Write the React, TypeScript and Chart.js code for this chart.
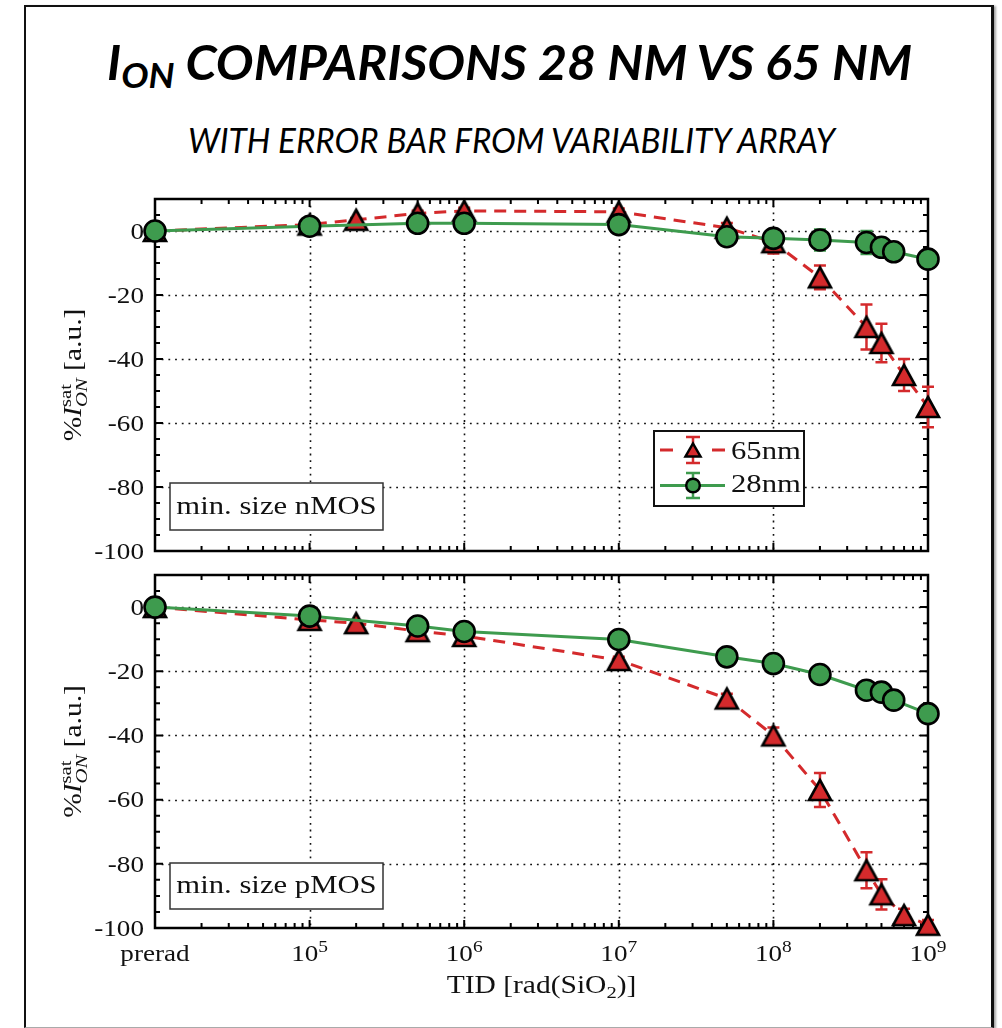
import React, { useEffect, useLayoutEffect, useRef } from "react";
import { Chart, registerables } from "chart.js";

Chart.register(...registerables);

// ---------------- data ----------------
const xTickValues = [1e4, 1e5, 1e6, 1e7, 1e8, 1e9];
const xTickLabels = ["prerad", "10^5", "10^6", "10^7", "10^8", "10^9"];
const yTickValues = [0, -20, -40, -60, -80, -100];
const yTickLabels = ["0", "-20", "-40", "-60", "-80", "-100"];

const seriesLabels = ["65nm", "28nm"];
const dose65 = [1e4, 1e5, 2e5, 5e5, 1e6, 1e7, 5e7, 1e8, 2e8, 4e8, 5e8, 7e8, 1e9];
const dose28 = [1e4, 1e5, 5e5, 1e6, 1e7, 5e7, 1e8, 2e8, 4e8, 5e8, 6e8, 1e9];

const nmos65 = [0, 2, 3.5, 5.5, 6.3, 6, 1, -3.5, -14.5, -30, -35, -45, -55];
const nmos65Err = [0.3, 0.5, 0.6, 0.8, 1, 1, 1.5, 3.5, 3.7, 7, 6, 5, 6.3];
const nmos28 = [0, 1.5, 2.4, 2.4, 2, -1.8, -2.3, -2.8, -3.6, -5.1, -6.5, -8.8];
const nmos28Err = [0.3, 0.4, 0.5, 0.5, 0.5, 0.8, 1.2, 3.3, 3.6, 2, 1.5, 2.7];

const pmos65 = [0, -4, -5, -7.5, -9, -16.5, -28.5, -40, -57, -82, -89.5, -96, -99];
const pmos65Err = [0.3, 0.5, 0.6, 0.6, 0.8, 1, 1.5, 2.5, 5.3, 5.6, 4.7, 2, 1.5];
const pmos28 = [0, -2.8, -5.9, -7.6, -10.1, -15.5, -17.6, -21, -25.9, -26.5, -29, -33.2];
const pmos28Err = [0.3, 0.3, 0.4, 0.4, 0.5, 0.6, 0.6, 0.8, 0.8, 0.8, 1, 2.5];

const panelLabels = ["min. size nMOS", "min. size pMOS"];
const titleMain = " COMPARISONS 28 NM VS 65 NM";
const subtitle = "WITH ERROR BAR FROM VARIABILITY ARRAY";

// ---------------- layout / style ----------------
const W = 1002;
const H = 1028;
const PLOT_L = 155;
const PLOT_R = 928;
const TOP_PANEL = { top: 199, bottom: 551, box: { x: 170, y: 483, w: 213, h: 47 } };
const BOT_PANEL = { top: 575, bottom: 928, box: { x: 170, y: 863, w: 213, h: 46 } };
const RED = "#d42a2c";
const GREEN = "#3e9b4e";
const INK = "#111";
const SERIF = '"Liberation Serif", "Times New Roman", serif';
const SX = 1.18;
const TICK_SIZE = 23;

type Seg = { t: string; size: number; italic?: boolean; dy?: number };
type Group = Seg[];

function setFont(ctx: CanvasRenderingContext2D, size: number, italic?: boolean) {
  ctx.font = `${italic ? "italic " : ""}${size}px ${SERIF}`;
}

function groupWidth(ctx: CanvasRenderingContext2D, g: Group) {
  let w = 0;
  g.forEach((s) => {
    setFont(ctx, s.size, s.italic);
    w = Math.max(w, ctx.measureText(s.t).width * SX);
  });
  return w;
}

function drawRich(
  ctx: CanvasRenderingContext2D,
  groups: Group[],
  x: number,
  y: number,
  align: "left" | "center" | "right"
) {
  const widths = groups.map((g) => groupWidth(ctx, g));
  const total = widths.reduce((a, b) => a + b, 0);
  let cx = align === "left" ? x : align === "center" ? x - total / 2 : x - total;
  ctx.textAlign = "left";
  ctx.textBaseline = "alphabetic";
  ctx.fillStyle = INK;
  groups.forEach((g, i) => {
    g.forEach((s) => {
      setFont(ctx, s.size, s.italic);
      ctx.save();
      ctx.translate(cx, y + (s.dy || 0));
      ctx.scale(SX, 1);
      ctx.fillText(s.t, 0, 0);
      ctx.restore();
    });
    cx += widths[i];
  });
}

function tickLabelGroups(label: string): Group[] {
  const parts = label.split("^");
  if (parts.length === 1) return [[{ t: label, size: TICK_SIZE }]];
  return [[{ t: parts[0], size: TICK_SIZE }], [{ t: parts[1], size: 16.5, dy: -9.5 }]];
}

const yTitle: Group[] = [
  [{ t: "%", size: 25 }],
  [{ t: "I", size: 25, italic: true }],
  [
    { t: "sat", size: 17.5, dy: -10 },
    { t: "ON", size: 17.5, italic: true, dy: 6 },
  ],
  [{ t: " [a.u.]", size: 25 }],
];
const xTitle: Group[] = [
  [{ t: "TID [rad(SiO", size: 25 }],
  [{ t: "2", size: 17.5, dy: 5 }],
  [{ t: ")]", size: 25 }],
];

// matplotlib-like "^" marker (centred at mid-height)
function triPath(ctx: CanvasRenderingContext2D, x: number, y: number, w: number, h: number) {
  ctx.beginPath();
  ctx.moveTo(x, y - h / 2);
  ctx.lineTo(x + w / 2, y + h / 2);
  ctx.lineTo(x - w / 2, y + h / 2);
  ctx.closePath();
}

function makeTriangle(fill: string, w: number, h: number) {
  const c = document.createElement("canvas");
  c.width = 40;
  c.height = 40;
  const g = c.getContext("2d") as CanvasRenderingContext2D;
  triPath(g, 20, 20, w, h);
  g.fillStyle = fill;
  g.fill();
  g.lineJoin = "miter";
  g.lineWidth = 2.6;
  g.strokeStyle = "#000";
  g.stroke();
  return c;
}

function errBar(ctx: CanvasRenderingContext2D, x: number, y1: number, y2: number, cap: number) {
  ctx.beginPath();
  ctx.moveTo(x, y1);
  ctx.lineTo(x, y2);
  ctx.moveTo(x - cap, y1);
  ctx.lineTo(x + cap, y1);
  ctx.moveTo(x - cap, y2);
  ctx.lineTo(x + cap, y2);
  ctx.stroke();
}

const decorPlugin = {
  id: "decor",
  beforeDatasetsDraw(chart: any, _args: any, opts: any) {
    const ctx: CanvasRenderingContext2D = chart.ctx;
    const xs = chart.scales.x;
    const ys = chart.scales.y;
    const { left, right, top, bottom } = chart.chartArea;
    ctx.save();
    // dotted grid
    ctx.strokeStyle = "#111";
    ctx.lineWidth = 1.6;
    ctx.setLineDash([1.8, 4.9]);
    xTickValues.forEach((v) => {
      const px = Math.round(xs.getPixelForValue(v)) + 0.5;
      if (px < left + 2 || px > right - 2) return;
      ctx.beginPath();
      ctx.moveTo(px, top);
      ctx.lineTo(px, bottom);
      ctx.stroke();
    });
    yTickValues.forEach((v) => {
      const py = Math.round(ys.getPixelForValue(v)) + 0.5;
      if (py < top + 2 || py > bottom - 2) return;
      ctx.beginPath();
      ctx.moveTo(left, py);
      ctx.lineTo(right, py);
      ctx.stroke();
    });
    ctx.setLineDash([]);
    // inward ticks
    ctx.strokeStyle = "#000";
    ctx.lineWidth = 2;
    const xMinor: number[] = [];
    for (let d = 0; d < xTickValues.length - 1; d++)
      for (let m = 2; m <= 9; m++) xMinor.push(xTickValues[d] * m);
    const drawX = (vals: number[], len: number) =>
      vals.forEach((v) => {
        const px = xs.getPixelForValue(v);
        ctx.beginPath();
        ctx.moveTo(px, bottom);
        ctx.lineTo(px, bottom - len);
        ctx.moveTo(px, top);
        ctx.lineTo(px, top + len);
        ctx.stroke();
      });
    drawX(xTickValues, 8);
    drawX(xMinor, 5);
    const yMinor: number[] = [];
    for (let v = ys.min; v <= ys.max; v += 5) if (!yTickValues.includes(v)) yMinor.push(v);
    const drawY = (vals: number[], len: number) =>
      vals.forEach((v) => {
        const py = ys.getPixelForValue(v);
        ctx.beginPath();
        ctx.moveTo(left, py);
        ctx.lineTo(left + len, py);
        ctx.moveTo(right, py);
        ctx.lineTo(right - len, py);
        ctx.stroke();
      });
    drawY(yTickValues, 8);
    drawY(yMinor, 5);
    // spines
    ctx.lineWidth = 2.5;
    ctx.strokeRect(left, top, right - left, bottom - top);

    // labels
    yTickValues.forEach((v, i) => {
      drawRich(ctx, [[{ t: yTickLabels[i], size: TICK_SIZE }]], left - 11, ys.getPixelForValue(v) + 7.8, "right");
    });
    ctx.save();
    ctx.translate(81, (top + bottom) / 2);
    ctx.rotate(-Math.PI / 2);
    drawRich(ctx, yTitle, 0, 0, "center");
    ctx.restore();
    if (opts.withXLabels) {
      xTickValues.forEach((v, i) => {
        drawRich(ctx, tickLabelGroups(xTickLabels[i]), xs.getPixelForValue(v), bottom + 33, "center");
      });
      drawRich(ctx, xTitle, (left + right) / 2, bottom + 65, "center");
    }
    ctx.restore();
  },
  beforeDatasetDraw(chart: any, args: any) {
    const ds = chart.data.datasets[args.index];
    const ctx: CanvasRenderingContext2D = chart.ctx;
    const xs = chart.scales.x;
    const ys = chart.scales.y;
    ctx.save();
    ctx.strokeStyle = ds.borderColor;
    ctx.lineWidth = 2.5;
    ctx.setLineDash([]);
    ds.data.forEach((p: any, i: number) => {
      const e = ds.errors[i];
      const px = xs.getPixelForValue(p.x);
      errBar(ctx, px, ys.getPixelForValue(p.y + e), ys.getPixelForValue(p.y - e), 6);
    });
    ctx.restore();
  },
  afterDatasetsDraw(chart: any, _args: any, opts: any) {
    const ctx: CanvasRenderingContext2D = chart.ctx;
    const b = opts.box;
    ctx.save();
    ctx.fillStyle = "#fff";
    ctx.fillRect(b.x, b.y, b.w, b.h);
    ctx.strokeStyle = "#333";
    ctx.lineWidth = 1.5;
    ctx.strokeRect(b.x, b.y, b.w, b.h);
    drawRich(ctx, [[{ t: opts.boxText, size: 26 }]], b.x + b.w / 2, b.y + b.h / 2 + 7, "center");

    if (opts.withLegend) {
      const lx = 654, ly = 431, lw = 150, lh = 75;
      ctx.fillStyle = "#fff";
      ctx.fillRect(lx, ly, lw, lh);
      ctx.strokeStyle = "#111";
      ctx.lineWidth = 2;
      ctx.strokeRect(lx, ly, lw, lh);
      const ds = chart.data.datasets;
      // row 1 : 65nm
      const r1 = 450;
      ctx.strokeStyle = ds[0].borderColor;
      ctx.lineWidth = 3;
      ctx.beginPath();
      ctx.moveTo(660, r1);
      ctx.lineTo(673, r1);
      ctx.moveTo(712, r1);
      ctx.lineTo(725, r1);
      ctx.stroke();
      ctx.lineWidth = 2.5;
      errBar(ctx, 693, r1 - 13, r1 + 13, 7);
      triPath(ctx, 693, r1, 15, 13);
      ctx.fillStyle = ds[0].borderColor;
      ctx.fill();
      ctx.strokeStyle = "#000";
      ctx.lineWidth = 2.5;
      ctx.lineJoin = "miter";
      ctx.stroke();
      drawRich(ctx, [[{ t: ds[0].label, size: 26 }]], 731, 459, "left");
      // row 2 : 28nm
      const r2 = 485.5;
      ctx.strokeStyle = ds[1].borderColor;
      ctx.lineWidth = 3;
      ctx.beginPath();
      ctx.moveTo(660, r2);
      ctx.lineTo(725, r2);
      ctx.stroke();
      ctx.lineWidth = 2.5;
      errBar(ctx, 693, r2 - 12.5, r2 + 12.5, 7);
      ctx.beginPath();
      ctx.arc(693, r2, 6.8, 0, Math.PI * 2);
      ctx.fillStyle = ds[1].pointBackgroundColor;
      ctx.fill();
      ctx.strokeStyle = "#000";
      ctx.lineWidth = 2.5;
      ctx.stroke();
      drawRich(ctx, [[{ t: ds[1].label, size: 26 }]], 731, 492, "left");
    }
    ctx.restore();
  },
};

function buildConfig(
  panel: typeof TOP_PANEL,
  v65: number[],
  e65: number[],
  v28: number[],
  e28: number[],
  boxText: string,
  withLegend: boolean,
  withXLabels: boolean,
  triImg: HTMLCanvasElement
): any {
  return {
    type: "line",
    data: {
      datasets: [
        {
          label: seriesLabels[0],
          data: dose65.map((x, i) => ({ x, y: v65[i] })),
          errors: e65,
          borderColor: RED,
          borderWidth: 3,
          borderDash: [12, 8],
          pointStyle: triImg,
          pointRadius: 12,
          pointBackgroundColor: RED,
          pointBorderColor: "#000",
          pointBorderWidth: 2.5,
          clip: false,
          order: 1,
          tension: 0,
        },
        {
          label: seriesLabels[1],
          data: dose28.map((x, i) => ({ x, y: v28[i] })),
          errors: e28,
          borderColor: GREEN,
          borderWidth: 3,
          pointStyle: "circle",
          pointRadius: 10.5,
          pointBackgroundColor: GREEN,
          pointBorderColor: "#000",
          pointBorderWidth: 2.6,
          clip: false,
          order: 0,
          tension: 0,
        },
      ],
    },
    options: {
      animation: false,
      responsive: false,
      events: [],
      layout: {
        padding: { left: PLOT_L, right: W - PLOT_R, top: panel.top, bottom: H - panel.bottom },
      },
      scales: {
        x: { type: "logarithmic", min: xTickValues[0], max: xTickValues[xTickValues.length - 1], display: false },
        y: { type: "linear", min: -100, max: 10, display: false },
      },
      plugins: {
        legend: { display: false },
        tooltip: { enabled: false },
        decor: { boxText, withLegend, withXLabels, box: panel.box },
      },
    },
    plugins: [decorPlugin],
  };
}

function FitText(props: { left: number; top: number; width: number; style: any; children: any }) {
  const ref = useRef<HTMLDivElement>(null);
  useLayoutEffect(() => {
    const el = ref.current;
    if (!el) return;
    el.style.transform = "none";
    const w = el.getBoundingClientRect().width;
    if (w > 0) el.style.transform = `scaleX(${props.width / w})`;
  }, []);
  return (
    <div
      ref={ref}
      style={{
        position: "absolute",
        left: props.left,
        top: props.top,
        whiteSpace: "nowrap",
        transformOrigin: "0 0",
        color: "#000",
        ...props.style,
      }}
    >
      {props.children}
    </div>
  );
}

export default function App() {
  const topRef = useRef<HTMLCanvasElement>(null);
  const botRef = useRef<HTMLCanvasElement>(null);

  useEffect(() => {
    const tri = makeTriangle(RED, 22, 20);
    const c1 = new Chart(
      topRef.current as HTMLCanvasElement,
      buildConfig(TOP_PANEL, nmos65, nmos65Err, nmos28, nmos28Err, panelLabels[0], true, false, tri)
    );
    const c2 = new Chart(
      botRef.current as HTMLCanvasElement,
      buildConfig(BOT_PANEL, pmos65, pmos65Err, pmos28, pmos28Err, panelLabels[1], false, true, tri)
    );
    return () => {
      c1.destroy();
      c2.destroy();
    };
  }, []);

  const canvasStyle: any = { position: "absolute", left: 0, top: 0, width: W, height: H };

  return (
    <div style={{ position: "absolute", left: 0, top: 0, width: W, height: H, background: "#fff", overflow: "hidden" }}>
      <div
        style={{
          position: "absolute",
          left: 24,
          top: 5,
          width: 970,
          height: 1023,
          boxSizing: "border-box",
          borderTop: "2.5px solid #111",
          borderLeft: "2.5px solid #111",
          borderRight: "3px solid #111",
          borderBottom: "1.5px solid #aaa",
          boxShadow: "2px 1px 2px rgba(0,0,0,0.35)",
        }}
      />
      <FitText
        left={107}
        top={39}
        width={805}
        style={{ font: "italic 700 47px Lato, 'Open Sans', sans-serif", lineHeight: "47px" }}
      >
        I<span style={{ fontSize: 34, position: "relative", top: 8 }}>ON</span>
        {titleMain}
      </FitText>
      <FitText
        left={188}
        top={122}
        width={647}
        style={{ font: "italic 400 35px Lato, 'Open Sans', sans-serif", lineHeight: "35px" }}
      >
        {subtitle}
      </FitText>
      <canvas ref={topRef} width={W} height={H} style={canvasStyle} />
      <canvas ref={botRef} width={W} height={H} style={canvasStyle} />
    </div>
  );
}
